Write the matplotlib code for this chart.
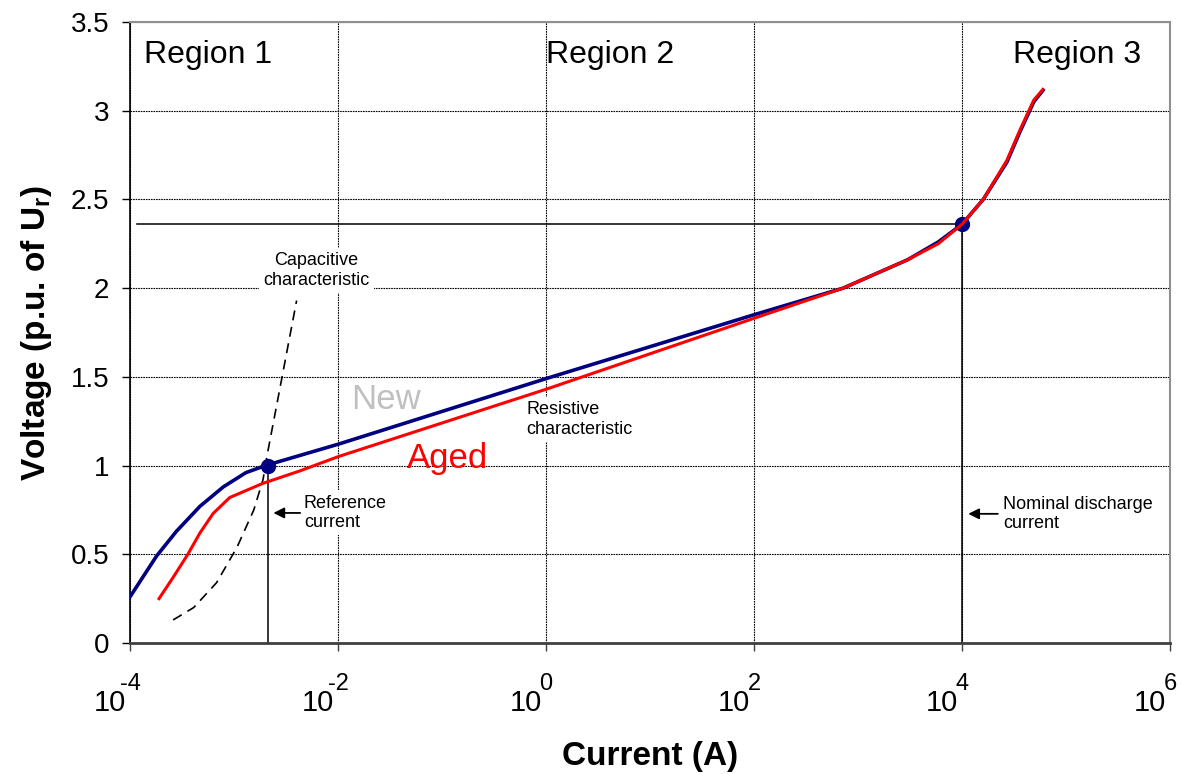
import matplotlib
matplotlib.use('Agg')
import matplotlib.pyplot as plt
import numpy as np

plt.rcParams['font.family'] = ['Liberation Sans', 'DejaVu Sans']
plt.rcParams['mathtext.fontset'] = 'custom'
plt.rcParams['mathtext.rm'] = 'Liberation Sans'
plt.rcParams['mathtext.bf'] = 'Liberation Sans:bold'

# V-I characteristic (current in A, voltage in p.u. of Ur)
new_current = [1.0e-4, 1.8e-4, 2.8e-4, 4.7e-4, 7.9e-4, 1.3e-3, 2.0e-3, 1e-2, 1, 10, 100,
               720, 3.0e3, 5.9e3, 1.0e4, 1.6e4, 2.7e4, 3.6e4, 4.9e4, 6.0e4]
new_voltage = [0.26, 0.49, 0.63, 0.77, 0.88, 0.96, 1.00, 1.12, 1.49, 1.67, 1.85,
               2.00, 2.16, 2.26, 2.36, 2.50, 2.71, 2.88, 3.05, 3.115]

aged_current = [1.9e-4, 2.6e-4, 3.6e-4, 4.7e-4, 6.3e-4, 9.1e-4, 1.9e-3, 4.3e-3, 1e-2, 1, 10, 100,
                720, 3.0e3, 5.9e3, 1.0e4, 1.6e4, 2.7e4, 3.6e4, 4.9e4, 6.0e4]
aged_voltage = [0.25, 0.37, 0.50, 0.62, 0.73, 0.82, 0.90, 0.97, 1.05, 1.43, 1.63, 1.83,
                2.00, 2.16, 2.25, 2.36, 2.50, 2.72, 2.89, 3.06, 3.12]

cap_current = [2.6e-4, 4.1e-4, 6.8e-4, 1.07e-3, 1.55e-3, 1.9e-3, 2.1e-3, 2.9e-3, 4.0e-3]
cap_voltage = [0.13, 0.20, 0.34, 0.54, 0.75, 0.92, 1.07, 1.50, 1.93]

ref_current, ref_voltage = 2.1e-3, 1.0
nom_current, nom_voltage = 1.0e4, 2.36

x_ticks = [1e-4, 1e-2, 1e0, 1e2, 1e4, 1e6]
x_exponents = ['-4', '-2', '0', '2', '4', '6']
y_ticks = [0, 0.5, 1, 1.5, 2, 2.5, 3, 3.5]

fig = plt.figure(figsize=(11.82, 7.74), dpi=100)
ax = fig.add_axes([130 / 1182, 1 - 643 / 774, 1040 / 1182, 621 / 774])

ax.set_xscale('log')
ax.set_xlim(1e-4, 1e6)
ax.set_ylim(0, 3.5)
ax.set_xticks(x_ticks)
ax.xaxis.set_minor_locator(matplotlib.ticker.NullLocator())
ax.set_xticklabels([''] * len(x_ticks))
ax.set_yticks(y_ticks)
ax.set_yticklabels(['0', '0.5', '1', '1.5', '2', '2.5', '3', '3.5'])
ax.tick_params(axis='y', labelsize=20, pad=9, length=6, width=1)
ax.tick_params(axis='x', length=6, width=1, color='#404040')
ax.grid(True, color='black', lw=0.8, linestyle=(0, (1.5, 0.8)))
ax.set_axisbelow(True)

for s in ['top', 'right']:
    ax.spines[s].set_color('#909090')
    ax.spines[s].set_linewidth(1.5)
ax.spines['left'].set_color('black')
ax.spines['left'].set_linewidth(1.2)
ax.spines['bottom'].set_color('#404040')
ax.spines['bottom'].set_linewidth(2)

# x tick labels: "10" with a raised exponent, Excel style
for t, e in zip(x_ticks, x_exponents):
    ax.annotate('10', xy=(t, 0), xycoords=('data', 'axes fraction'), xytext=(-3, -49),
                textcoords='offset points', ha='right', va='baseline', fontsize=21)
    ax.annotate(e, xy=(t, 0), xycoords=('data', 'axes fraction'), xytext=(0, -33.5),
                textcoords='offset points', ha='center', va='baseline', fontsize=17)

# reference lines
ax.plot([1.17e-4, nom_current], [nom_voltage, nom_voltage], color='black', lw=1.1, zorder=2)
ax.plot([nom_current, nom_current], [0, nom_voltage], color='black', lw=1.1, zorder=2)
ax.plot([ref_current, ref_current], [0, ref_voltage], color='black', lw=1.1, zorder=2)

ax.plot(cap_current, cap_voltage, color='black', lw=1.2, linestyle=(0, (6, 4)), zorder=3)
ax.plot(new_current, new_voltage, color='#000080', lw=2.6, zorder=4)
ax.plot(aged_current, aged_voltage, color='#FF0000', lw=2.2, zorder=5)
ax.plot([ref_current, nom_current], [ref_voltage, nom_voltage], 'o', color='#000080',
        markersize=10, zorder=4)

box = dict(facecolor='white', edgecolor='none', pad=3)
ax.text(6.2e-3, 2.10, 'Capacitive\ncharacteristic', fontsize=13, ha='center', va='center',
        bbox=box, zorder=3)
ax.text(0.643, 1.258, 'Resistive\ncharacteristic', fontsize=13, ha='left', va='center',
        bbox=box, zorder=3)
ax.text(4.7e-3, 0.733, 'Reference\ncurrent', fontsize=13, ha='left', va='center',
        bbox=box, zorder=3)
ax.text(2.5e4, 0.728, 'Nominal discharge\ncurrent', fontsize=13, ha='left', va='center',
        bbox=box, zorder=3)
ax.annotate('', xy=(2.25e-3, 0.733), xytext=(4.6e-3, 0.733),
            arrowprops=dict(arrowstyle='-|>', color='black', lw=1.3, mutation_scale=16), zorder=6)
ax.annotate('', xy=(1.08e4, 0.728), xytext=(2.35e4, 0.728),
            arrowprops=dict(arrowstyle='-|>', color='black', lw=1.3, mutation_scale=16), zorder=6)

ax.text(0.029, 1.37, 'New', fontsize=25, color='#C0C0C0', ha='center', va='center')
ax.text(0.114, 1.038, 'Aged', fontsize=25, color='#FF0000', ha='center', va='center')

ax.text(10 ** -3.245, 3.315, 'Region 1', fontsize=23, ha='center', va='center')
ax.text(10 ** 0.615, 3.315, 'Region 2', fontsize=23, ha='center', va='center')
ax.text(10 ** 5.106, 3.315, 'Region 3', fontsize=23, ha='center', va='center')

ax.set_xlabel('Current (A)', fontsize=24, fontweight='bold', va='center')
ax.xaxis.set_label_coords(0.5, -0.182)
ax.set_ylabel(r'Voltage (p.u. of U$_\mathbf{r}$)', fontsize=24, fontweight='bold', va='center')
ax.yaxis.set_label_coords(-0.09, 0.5)

plt.savefig('out.png', dpi=100)
